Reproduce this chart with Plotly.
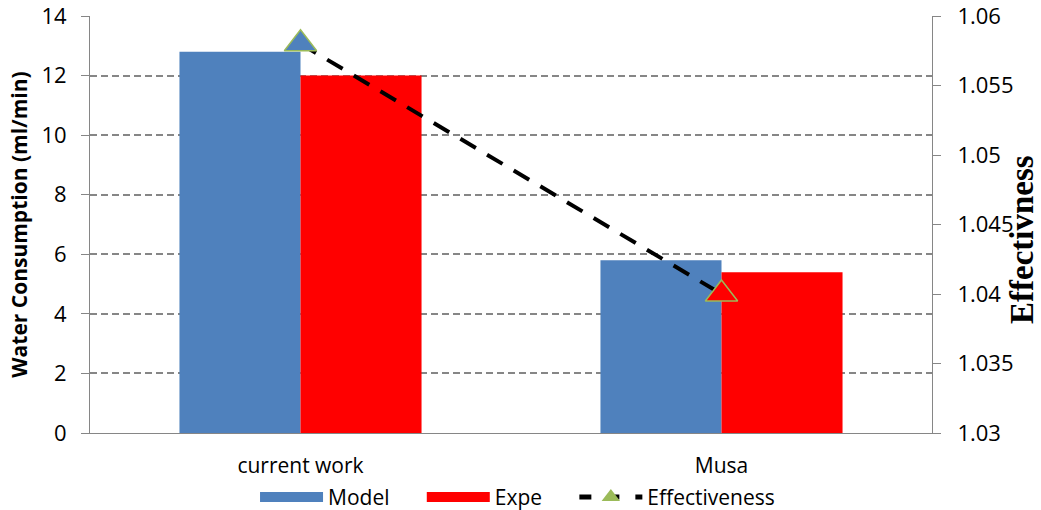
import plotly.graph_objects as go

categories = ["current work", "Musa"]
model_vals = [12.8, 5.8]
expe_vals = [12.0, 5.4]
effectiveness = [1.058, 1.040]

left_ticks = [0, 2, 4, 6, 8, 10, 12, 14]
right_ticks = [1.03, 1.035, 1.04, 1.045, 1.05, 1.055, 1.06]
right_ticktext = ["1.03", "1.035", "1.04", "1.045", "1.05", "1.055", "1.06"]

BLUE = "#4F81BD"
RED = "#FF0000"
GREEN = "#9BBB59"
GRID = "#868686"
font_main = "Open Sans, Liberation Sans, sans-serif"
PAD = "\u00a0" * 5  # extra spacing between legend entries

fig = go.Figure()
fig.add_trace(go.Bar(x=categories, y=model_vals, name="Model", showlegend=False,
                     marker=dict(color=BLUE, line=dict(width=0))))
fig.add_trace(go.Bar(x=categories, y=expe_vals, name="Expe", showlegend=False,
                     marker=dict(color=RED, line=dict(width=0))))
fig.add_trace(go.Scatter(x=categories, y=effectiveness, name="Effectiveness",
                         yaxis="y2", mode="lines+markers", showlegend=False,
                         line=dict(color="black", width=4, dash="18px,13px"),
                         marker=dict(symbol="triangle-up", size=28,
                                     color=[BLUE, RED],
                                     line=dict(color=GREEN, width=1.5))))
# legend entries
fig.add_trace(go.Scatter(x=[None], y=[None], name="Model" + PAD, mode="lines",
                         line=dict(color=BLUE, width=14)))
fig.add_trace(go.Scatter(x=[None], y=[None], name="Expe" + PAD, mode="lines",
                         line=dict(color=RED, width=14)))
fig.add_trace(go.Scatter(x=[None], y=[None], name="Effectiveness",
                         yaxis="y2", mode="lines+markers",
                         line=dict(color="black", width=5, dash="12px,16px"),
                         marker=dict(symbol="triangle-up", size=18, color=GREEN)))

fig.update_layout(
    width=1041, height=510,
    margin=dict(l=90, r=109, t=16, b=77, autoexpand=False),
    plot_bgcolor="white", paper_bgcolor="white",
    barmode="group", bargap=0.425, bargroupgap=0,
    font=dict(family=font_main, size=18, color="#000"),
    xaxis=dict(showline=True, linecolor=GRID, linewidth=1, ticks="",
               tickfont=dict(size=21), showgrid=False, automargin=False,
               ticklabelstandoff=14),
    yaxis=dict(range=[0, 14], tickvals=left_ticks, showline=True,
               linecolor=GRID, linewidth=1, ticks="outside", ticklen=8,
               tickcolor=GRID, showgrid=True, gridcolor=GRID,
               griddash="7px,4px", gridwidth=2, zeroline=False,
               automargin=False, ticklabelstandoff=10,
               ticklabeloverflow="allow",
               title=dict(text="<b>Water Consumption (ml/min)</b>",
                          font=dict(size=21), standoff=8),
               tickfont=dict(size=22)),
    yaxis2=dict(range=[1.03, 1.06], overlaying="y", side="right",
                tickvals=right_ticks, ticktext=right_ticktext,
                showline=True, linecolor=GRID, linewidth=1,
                ticks="outside", ticklen=8, tickcolor=GRID,
                showgrid=False, zeroline=False, automargin=False,
                ticklabeloverflow="allow",
                ticklabelstandoff=12, tickfont=dict(size=22)),
    annotations=[dict(text="<b>Effectivness</b>", textangle=-90,
                      xref="paper", yref="paper", x=1.1069, y=0.463,
                      xanchor="center", yanchor="middle", showarrow=False,
                      font=dict(family="Liberation Serif, Times New Roman, serif",
                                size=33, color="#000"))],
    legend=dict(orientation="h", x=0.196, xanchor="left", y=0.025,
                yref="container", yanchor="middle", font=dict(size=21),
                traceorder="normal", itemwidth=63),
)

fig.write_html("out.html", post_script="document.body.style.margin='0';",
               config={"displayModeBar": False})
